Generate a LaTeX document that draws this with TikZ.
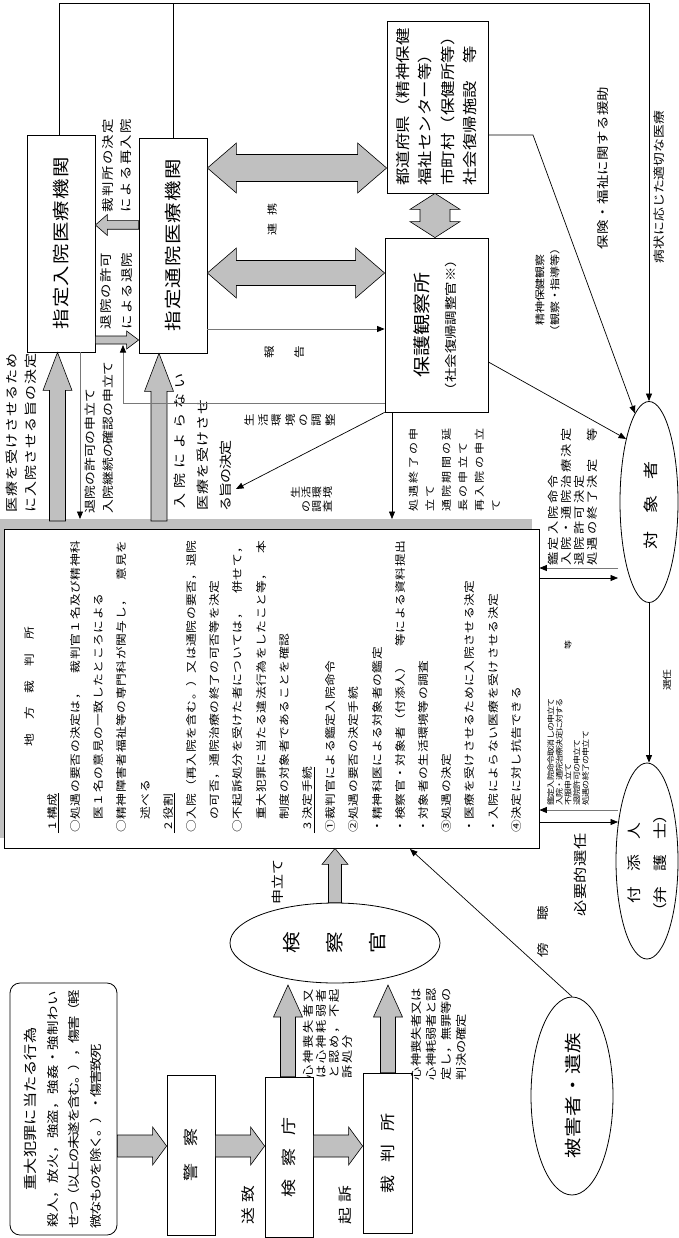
\documentclass[tikz,border=0pt]{standalone}
\usepackage{fontspec}
\setmainfont{Noto Sans CJK JP}[FakeStretch=1.2]
\usepackage{graphicx}
\usetikzlibrary{calc,shapes.geometric,arrows.meta}
\definecolor{agray}{RGB}{192,192,192}
\definecolor{lgray}{RGB}{120,120,120}
\makeatletter
\newcommand\chp[2]{\@tfor\jpch:=#2\do{\makebox[#1]{\jpch}}}
\newcommand\tate[2]{\vbox{\baselineskip=#1\relax\lineskiplimit=-100pt\lineskip=0pt\@tfor\jpch:=#2\do{\hbox to 1.3em{\hss\jpch\hss}}}}
\makeatother
\newcommand\jfs[2]{\fontsize{#1}{#2}\selectfont}
\newcommand\ml[1]{\chp{13.3pt}{#1}}
\newcommand\barrow[5]{%
  \path (#1) coordinate (ba-a) (#2) coordinate (ba-b);
  \path ($(ba-b)!#5!(ba-a)$) coordinate (ba-h);
  \filldraw[blockarrow] ($(ba-a)!#3!90:(ba-b)$) -- ($(ba-h)!#3!-90:(ba-a)$) -- ($(ba-h)!#4!-90:(ba-a)$) -- (ba-b) -- ($(ba-h)!#4!90:(ba-a)$) -- ($(ba-h)!#3!90:(ba-a)$) -- ($(ba-a)!#3!-90:(ba-b)$) -- cycle;}
\newcommand\dbarrow[5]{%
  \path (#1) coordinate (da-a) (#2) coordinate (da-b);
  \path ($(da-a)!#5!(da-b)$) coordinate (da-ha) ($(da-b)!#5!(da-a)$) coordinate (da-hb);
  \filldraw[blockarrow] (da-a) -- ($(da-ha)!#4!90:(da-b)$) -- ($(da-ha)!#3!90:(da-b)$) -- ($(da-hb)!#3!-90:(da-a)$) -- ($(da-hb)!#4!-90:(da-a)$) -- (da-b) -- ($(da-hb)!#4!90:(da-a)$) -- ($(da-hb)!#3!90:(da-a)$) -- ($(da-ha)!#3!-90:(da-b)$) -- ($(da-ha)!#4!-90:(da-b)$) -- cycle;}
\tikzset{
  box/.style={draw=black, line width=0.8pt, fill=white, inner sep=0pt, rectangle},
  ell/.style={draw=black, line width=0.8pt, ellipse, inner sep=0pt},
  txt/.style={inner sep=0pt, outer sep=0pt},
  blockarrow/.style={fill=agray, draw=black, line width=0.6pt, line join=miter},
  link/.style={draw=black, line width=0.7pt},
  glink/.style={draw=lgray, line width=0.8pt},
  tip/.style={-{Triangle[length=7.5pt,width=6pt]}},
  tipk/.style={-{Triangle[length=7.5pt,width=6pt,color=black]}},
}
\begin{document}
\begin{tikzpicture}[x=1pt,y=-1pt]
\useasboundingbox (0,0) rectangle (679,1238);
\fill[white] (0,0) rectangle (679,1238);

% ---------- main court box ----------
\node[fill=agray, inner sep=0pt, minimum width=535pt, minimum height=319pt] (chihoshadow) at (264.5,678.5) {};
\node[box, minimum width=535pt, minimum height=319pt] (chiho) at (271.5,688.5) {};
\node[txt, anchor=south] (chihotext) at (272,833) {\rotatebox{90}{\jfs{10.6}{23.2}\begin{tabular}{@{}l@{}}
\multicolumn{1}{@{}c@{}}{\ml{地　方　裁　判　所}\hspace{26pt}}\\
\underline{\ml{1構成}}\\
\ml{○処遇の要否の決定は，　裁判官１名及び精神科}\\
\ml{　医１名の意見の一致したところによる}\\
\ml{○精神障害者福祉等の専門科が関与し，　意見を}\\
\ml{　述べる}\\
\underline{\ml{2役割}}\\
\ml{○入院（再入院を含む。）又は通院の要否，退院}\\
\ml{　の可否，通院治療の終了の可否等を決定}\\
\ml{○不起訴処分を受けた者については，　併せて，}\\
\ml{　重大犯罪に当たる違法行為をしたこと等，　本}\\
\ml{　制度の対象者であることを確認}\\
\underline{\ml{3決定手続}}\\
\ml{①裁判官による鑑定入院命令}\\
\ml{②処遇の要否の決定手続}\\
\ml{・精神科医による対象者の鑑定}\\
\ml{・検察官・対象者（付添人）　等による資料提出}\\
\ml{・対象者の生活環境等の調査}\\
\ml{③処遇の決定}\\
\ml{・医療を受けさせるために入院させる決定}\\
\ml{・入院によらない医療を受けさせる決定}\\
\ml{④決定に対し抗告できる}
\end{tabular}}};

% ---------- bottom chain ----------
\node[box, rounded corners=10pt, minimum width=107pt, minimum height=252pt] (crime) at (63.5,1109) {\rotatebox{90}{\jfs{12}{21.5}\begin{tabular}{@{}l@{}}
\multicolumn{1}{@{}c@{}}{\jfs{13.5}{21.5}\chp{16.3pt}{重大犯罪に当たる行為}}\\
\chp{14.8pt}{殺人，放火，強盗，強姦・強制わい}\\
\chp{13.2pt}{せつ（以上の未遂を含む。），傷害（軽}\\
\chp{13.1pt}{微なものを除く。）・傷害致死}
\end{tabular}}};
\node[box, minimum width=48pt, minimum height=160pt] (police) at (191,1155) {\rotatebox{90}{\jfs{15}{18}\chp{17.5pt}{警　察}}};
\node[box, minimum width=48pt, minimum height=160pt] (kencho) at (289,1157) {\rotatebox{90}{\jfs{15}{18}\chp{15.5pt}{検　察　庁}}};
\node[box, minimum width=49pt, minimum height=160pt] (court) at (387.5,1153) {\rotatebox{90}{\jfs{15}{18}\chp{15.5pt}{裁　判　所}}};
\node[ell, minimum width=210pt, minimum height=80pt] (prosecutor) at (335,943) {};
\node[txt] (prosecutor-t) at (335,943) {\rotatebox{90}{\jfs{18}{20}\tate{43pt}{検察官}}};

\node[txt] (l-sochi) at (248,1205) {\rotatebox{90}{\jfs{14}{16}\chp{22pt}{送致}}};
\node[txt] (l-kiso) at (345,1205) {\rotatebox{90}{\jfs{14}{16}\chp{22pt}{起訴}}};
\node[txt] (l-moushi) at (278,882) {\rotatebox{90}{\jfs{12.5}{15}\chp{14.5pt}{申立て}}};
\node[txt, anchor=south] (l-fukiso) at (329,1080) {\rotatebox{90}{\jfs{11}{12.7}\begin{tabular}{@{}l@{}}\chp{15.3pt}{心神喪失者又}\\\chp{15.3pt}{は心神耗弱者}\\\chp{15.3pt}{と認め，不起}\\\chp{15.3pt}{訴処分}\end{tabular}}};
\node[txt, anchor=south] (l-muzai) at (440,1080) {\rotatebox{90}{\jfs{11}{15}\begin{tabular}{@{}l@{}}\chp{13.1pt}{心神喪失者又は}\\\chp{13.1pt}{心神耗弱者と認}\\\chp{13.1pt}{定し，無罪等の}\\\chp{13.1pt}{判決の確定}\end{tabular}}};

\barrow{crime.east |- 0,1146}{police.west |- 0,1146}{11pt}{19pt}{14pt}
\barrow{police.east |- 0,1146}{kencho.west |- 0,1146}{11pt}{19pt}{14pt}
\barrow{kencho.east |- 0,1146}{court.west |- 0,1146}{11pt}{19pt}{14pt}
\barrow{kencho.north -| 288,0}{288,985}{7.5pt}{14.5pt}{32pt}
\barrow{court.north -| 388,0}{388,985}{7.5pt}{14.5pt}{32pt}
\barrow{prosecutor.north -| 335,0}{chiho.south -| 335,0}{6.5pt}{13pt}{16pt}

% ---------- hospitals and agencies ----------
\node[box, minimum width=68pt, minimum height=217pt] (nyuin) at (61,243.5) {\rotatebox{90}{\jfs{17}{20}\chp{21.7pt}{指定入院医療機関}}};
\node[box, minimum width=68pt, minimum height=215pt] (tsuin) at (173,245.5) {\rotatebox{90}{\jfs{17}{20}\chp{21.7pt}{指定通院医療機関}}};
\node[box, minimum width=103pt, minimum height=174pt] (hogo) at (436.5,325) {\rotatebox{90}{\jfs{12}{27}\begin{tabular}{@{}c@{}}{\jfs{17.5}{27}\chp{21pt}{保護観察所}}\\\chp{14.4pt}{（社会復帰調整官※）}\end{tabular}}};
\node[box, minimum width=101pt, minimum height=172pt] (todofuken) at (437.5,107) {\rotatebox{90}{\jfs{14.5}{22.5}\begin{tabular}{@{}l@{}}\chp{17.5pt}{都道府県（精神保健}\\\chp{17.5pt}{福祉センター等）}\\\chp{17.5pt}{市町村（保健所等）}\\\chp{17.5pt}{社会復帰施設　等}\end{tabular}}};

\node[ell, minimum width=58pt, minimum height=201pt] (taisho) at (649,502) {};
\node[txt] (taisho-t) at (651,505) {\rotatebox{90}{\jfs{15}{18}\chp{17.5pt}{対　象　者}}};
\node[ell, minimum width=62pt, minimum height=196pt] (tsukisoi) at (647,861) {};
\node[txt] (tsukisoi-t) at (647,863) {\rotatebox{90}{\jfs{14}{26}\begin{tabular}{@{}c@{}}\chp{16pt}{付　添　人}\\\chp{16pt}{（弁　護　士）}\end{tabular}}};
\node[ell, minimum width=82pt, minimum height=198pt] (higai) at (572,1096) {};
\node[txt] (higai-t) at (573,1096) {\rotatebox{90}{\jfs{17}{20}\chp{21pt}{被害者・遺族}}};

% labels upper area
\node[txt, anchor=south] (l-nyuinkettei) at (22.5,513) {\rotatebox{90}{\jfs{12.5}{19}\begin{tabular}{@{}l@{}}\chp{16pt}{医療を受けさせるため}\\\chp{16pt}{に入院させる旨の決定}\end{tabular}}};
\node[txt, anchor=south] (l-taiinmoushi) at (100,513) {\rotatebox{90}{\jfs{11.5}{17.5}\begin{tabular}{@{}l@{}}\chp{13.8pt}{退院の許可の申立て}\\\chp{13.8pt}{入院継続の確認の申立て}\end{tabular}}};
\node[txt, anchor=south] (l-tsuinkettei) at (203,511) {\rotatebox{90}{\jfs{12.5}{23}\begin{tabular}{@{}l@{}}\chp{20pt}{入院によらない}\\\chp{16pt}{医療を受けさせ}\\\chp{14pt}{る旨の決定}\end{tabular}}};
\node[txt, anchor=south] (l-sainyuin) at (118,213) {\rotatebox{90}{\jfs{12}{18.5}\begin{tabular}{@{}l@{}}\chp{15.8pt}{裁判所の決定}\\\chp{15.8pt}{による再入院}\end{tabular}}};
\node[txt, anchor=south] (l-taiin) at (117,330) {\rotatebox{90}{\jfs{12}{21}\begin{tabular}{@{}l@{}}\chp{15.6pt}{退院の許可}\\\chp{15.6pt}{による退院}\end{tabular}}};
\node[txt] (l-renkei) at (272,220) {\rotatebox{90}{\jfs{10}{12}\chp{10pt}{連　携}}};
\node[txt] (l-houkoku) at (285,352) {\rotatebox{90}{\jfs{10.5}{12}\tate{30pt}{報告}}};
\node[txt] (l-chousei) at (290,420) {\rotatebox{90}{\jfs{10.5}{12}\tate{13.4pt}{生活環境の調整}}};
\node[txt] (l-chousa1) at (311.5,492) {\rotatebox{90}{\jfs{10}{12}\tate{10.75pt}{生活環境}}};
\node[txt] (l-chousa2) at (317,506) {\rotatebox{90}{\jfs{10}{12}\tate{10.75pt}{の調査}}};
\node[txt, anchor=south] (l-shuryo) at (455,513) {\rotatebox{90}{\jfs{10}{16.5}\begin{tabular}{@{}l@{}}\chp{14.3pt}{処遇終了の申}\\\chp{14.3pt}{立て}\\\chp{14.3pt}{通院期間の延}\\\chp{14.3pt}{長の申立て}\\\chp{14.3pt}{再入院の申立}\\\chp{14.3pt}{て}\end{tabular}}};
\node[txt, anchor=south] (l-kantei) at (574,567) {\rotatebox{90}{\jfs{11}{12}\begin{tabular}{@{}l@{}}\chp{15.5pt}{鑑定入院命令}\\\chp{15.5pt}{入院・通院治療決定}\\\chp{15.5pt}{退院許可決定}\\\chp{15.5pt}{処遇の終了決定　等}\end{tabular}}};
\node[txt, anchor=south] (l-fufuku) at (569,805) {\rotatebox{90}{\jfs{7.5}{8}\begin{tabular}{@{}l@{}}\chp{8.2pt}{鑑定入院命令取消しの申立て}\\\chp{8.2pt}{入院・通院治療決定に対する}\\\chp{8.2pt}{不服申立て}\hspace{114.8pt}\makebox[8.2pt]{等}\\\chp{8.2pt}{退院許可の申立て}\\\chp{8.2pt}{処遇の終了の申立て}\end{tabular}}};
\node[txt] (l-hitsuyo) at (580,875) {\rotatebox{90}{\jfs{13.5}{16}\chp{16.8pt}{必要的選任}}};
\node[txt] (l-senin) at (667,680) {\rotatebox{90}{\jfs{9}{11}\chp{10.5pt}{選任}}};
\node[txt] (l-bouchou) at (543,932) {\rotatebox{90}{\jfs{12}{14}\chp{18.5pt}{傍　聴}}};
\node[txt] (l-byojo) at (659,187) {\rotatebox{90}{\jfs{11.5}{13}\chp{13.9pt}{病状に応じた適切な医療}}};
\node[txt] (l-hoken) at (603,168) {\rotatebox{90}{\jfs{12}{14}\chp{14.8pt}{保険・福祉に関する援助}}};
\node[txt] (l-seishin) at (548,290) {\rotatebox{90}{\jfs{10}{15}\begin{tabular}{@{}c@{}}\chp{11.8pt}{精神保健観察}\\\chp{11.8pt}{（観察・指導等）}\end{tabular}}};

% ---------- block arrows ----------
\barrow{57.5,521}{nyuin.south -| 57.5,0}{8pt}{14.5pt}{38pt}
\barrow{159,521}{tsuin.south -| 159,0}{8pt}{14.5pt}{38pt}
\barrow{tsuin.west |- 0,225}{nyuin.east |- 0,225}{4.3pt}{10.5pt}{12pt}
\barrow{nyuin.east |- 0,340}{tsuin.west |- 0,340}{4pt}{9pt}{12pt}
\dbarrow{tsuin.east |- 0,168}{todofuken.west |- 0,168}{13.5pt}{25pt}{29pt}
\dbarrow{tsuin.east |- 0,273}{hogo.west |- 0,273}{12.5pt}{25pt}{29pt}
\dbarrow{todofuken.south -| 435,0}{hogo.north -| 435,0}{15pt}{25pt}{16pt}

% ---------- thin connectors ----------
\coordinate (topline) at (0,3);
\coordinate (bend1) at (533,135);
\coordinate (c-tuin) at (123,345);
\coordinate (c-tsuinkettei) at (236,489);
\coordinate (c-chiho1) at (392,519);
\coordinate (c-chiho2) at (80,519);
\coordinate (c-t1) at (618,568);
\coordinate (c-t2) at (618,578);
\coordinate (c-s1) at (618,810);
\coordinate (c-s2) at (618,822);
\coordinate (c-bouchou) at (410,849);

\draw[link, tip] (nyuin.north -| 59,0) |- (topline -| taisho.north) -- (taisho.north);
\draw[link] (tsuin.north) -- (tsuin.north |- topline);
\draw[link, tip] (todofuken.east |- bend1) -- (bend1) -- (taisho.99);
\draw[link, tip] (hogo.east |- 0,362) -- (taisho.110);
\draw[glink, tipk] (tsuin.east |- 0,329) -- (hogo.west |- 0,329);
\draw[glink, tipk] (hogo.west |- 0,403) -| (c-tuin);
\draw[link, tip] (hogo.south west) -- (c-tsuinkettei);
\draw[link, tip] (hogo.south -| c-chiho1) -- (c-chiho1);
\draw[glink, tipk] (nyuin.south -| c-chiho2) -- (c-chiho2);
\draw[glink, tipk] (c-t1) -- (chiho.east |- c-t1);
\draw[link, tip] (chiho.east |- c-t2) -- (c-t2);
\draw[glink, tipk] (c-s1) -- (chiho.east |- c-s1);
\draw[link, tip] (chiho.east |- c-s2) -- (c-s2);
\draw[link, tip] (taisho.south) -- (taisho.south |- tsukisoi.north);
\draw[link, tip] (higai.north) -- (c-bouchou);
\end{tikzpicture}
\end{document}
